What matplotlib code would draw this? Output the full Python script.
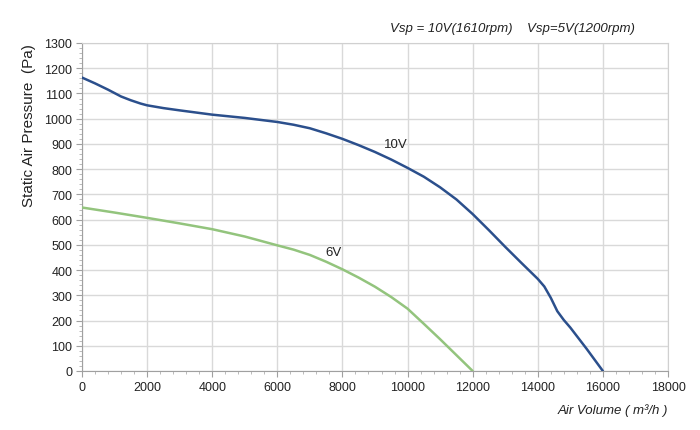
import matplotlib
matplotlib.use("Agg")
import matplotlib.pyplot as plt
from matplotlib.ticker import MultipleLocator

# Data
x_10v = [0, 400, 800, 1200, 1500, 1800, 2000, 2500, 3000, 4000, 5000, 6000,
         6500, 7000, 7500, 8000, 8500, 9000, 9500, 10000, 10500, 11000, 11500,
         12000, 12500, 13000, 13500, 14000, 14200, 14400, 14600, 14800, 15000,
         15500, 16000]
p_10v = [1163, 1140, 1115, 1088, 1073, 1060, 1053, 1042, 1033, 1016, 1003, 987,
         976, 962, 942, 920, 895, 868, 838, 805, 770, 728, 680,
         622, 558, 492, 428, 365, 335, 290, 237, 202, 172,
         88, 0]

x_6v = [0, 1000, 2000, 3000, 4000, 5000, 6000, 6500, 7000, 7500, 8000, 8500,
        9000, 9500, 10000, 10500, 11000, 11500, 12000]
p_6v = [648, 628, 607, 585, 562, 533, 498, 481, 460, 433, 403, 370,
        334, 293, 247, 187, 126, 63, 0]

x_ticks = [0, 2000, 4000, 6000, 8000, 10000, 12000, 14000, 16000, 18000]
y_ticks = list(range(0, 1301, 100))

title_text = "Vsp = 10V(1610rpm)    Vsp=5V(1200rpm)"
xlabel_text = "Air Volume ( m³/h )"
ylabel_text = "Static Air Pressure  (Pa)"

plt.rcParams['font.family'] = ['Liberation Sans', 'DejaVu Sans']

fig = plt.figure(figsize=(7.0, 4.31), dpi=100)
ax = fig.add_axes([82/700, (431-372)/431, (668-82)/700, (372-44)/431])

ax.plot(x_10v, p_10v, color='#2b4f8c', lw=1.8, zorder=3,
        solid_joinstyle='round', solid_capstyle='round')
ax.plot(x_6v, p_6v, color='#93c47d', lw=1.8, zorder=3,
        solid_joinstyle='round', solid_capstyle='round')

ax.set_xlim(0, 18000)
ax.set_ylim(0, 1300)
ax.set_xticks(x_ticks)
ax.set_yticks(y_ticks)
ax.xaxis.set_minor_locator(MultipleLocator(400))
ax.yaxis.set_minor_locator(MultipleLocator(20))
ax.grid(True, which='major', color='#d9d9d9', lw=1.0, zorder=0)
ax.tick_params(which='major', direction='out', length=4, color='#a0a0a0',
               labelsize=9, pad=3, labelcolor='#222222')
ax.tick_params(which='minor', direction='out', length=2.5, color='#b0b0b0')
for s in ax.spines.values():
    s.set_color('#d0d0d0')
ax.spines['left'].set_color('#a0a0a0')
ax.spines['bottom'].set_color('#a0a0a0')

ax.text(9650, 900, "10V", fontsize=9.5, ha='center', va='center', color='#222222')
ax.text(7710, 472, "6V", fontsize=9.5, ha='center', va='center', color='#222222')

fig.text(390/700, 1 - 29/431, title_text, fontsize=9.5, style='italic',
         ha='left', va='center', color='#222222')
fig.text(668/700, 1 - 411/431, xlabel_text, fontsize=9.5, style='italic',
         ha='right', va='center', color='#222222')
fig.text(29/700, 1 - 126/431, ylabel_text, fontsize=11, rotation=90,
         ha='center', va='center', color='#222222')

fig.savefig("out.png", dpi=100)
